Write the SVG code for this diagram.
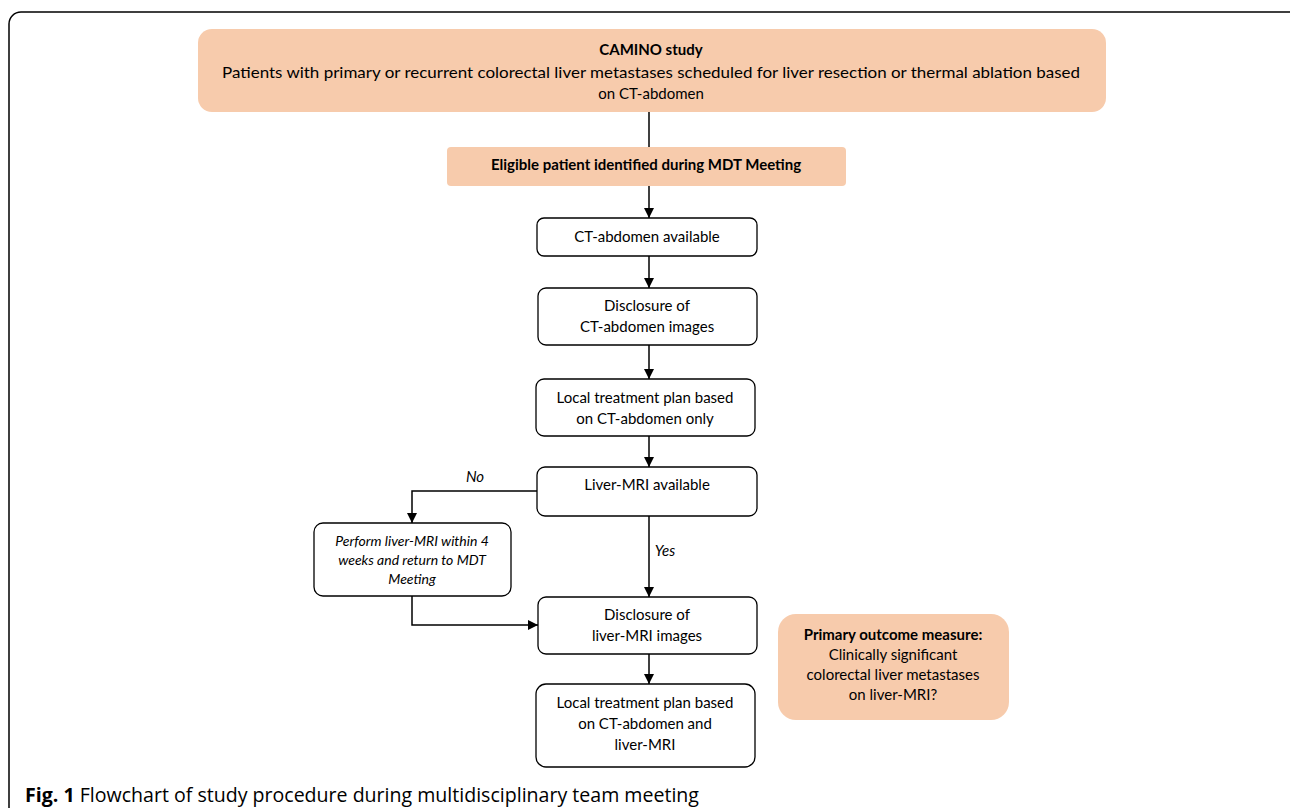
<svg xmlns="http://www.w3.org/2000/svg" width="1290" height="808" viewBox="0 0 1290 808">
<defs>
<marker id="ah" viewBox="0 0 10 10" refX="10" refY="5" markerWidth="10" markerHeight="10" markerUnits="userSpaceOnUse" orient="auto">
<path d="M0,0 L10,5 L0,10 z" fill="#000"/>
</marker>
<style>
.frame{fill:#fff;stroke:#000;stroke-width:1.5}
.peach{fill:#F7CBAC;stroke:none}
.box{fill:#fff;stroke:#000;stroke-width:1.3}
.t{font-family:Lato,"Open Sans","Liberation Sans",sans-serif;font-size:15px;fill:#000;text-anchor:middle}
.b{font-weight:bold}
.i{font-style:italic}
.s{font-size:14px}
.c{fill:none;stroke:#000;stroke-width:1.5}
.cap{font-family:"Open Sans","Liberation Sans",sans-serif;font-size:20px;fill:#000}
</style>
</defs>
<rect x="0" y="0" width="1290" height="808" fill="#fff"/>
<rect class="frame" x="9" y="12" width="1300" height="820" rx="12"/>

<g id="study">
<rect class="peach" x="198" y="29" width="908" height="83" rx="14"/>
<text class="t b" x="651" y="55">CAMINO study</text>
<text class="t" x="651" y="78" textLength="858" lengthAdjust="spacingAndGlyphs">Patients with primary or recurrent colorectal liver metastases scheduled for liver resection or thermal ablation based</text>
<text class="t" x="651" y="99">on CT-abdomen</text>
</g>
<g id="eligible">
<rect class="peach" x="447" y="147" width="399" height="39" rx="4"/>
<text class="t b" x="646" y="170">Eligible patient identified during MDT Meeting</text>
</g>
<g id="ct">
<rect class="box" x="537" y="218" width="220" height="38" rx="7"/>
<text class="t" x="647" y="242">CT-abdomen available</text>
</g>
<g id="disc-ct">
<rect class="box" x="538" y="288" width="219" height="57" rx="8"/>
<text class="t" x="647" y="311">Disclosure of</text>
<text class="t" x="647" y="332">CT-abdomen images</text>
</g>
<g id="plan-ct">
<rect class="box" x="536" y="379" width="219" height="57" rx="8"/>
<text class="t" x="645" y="403">Local treatment plan based</text>
<text class="t" x="645" y="424">on CT-abdomen only</text>
</g>
<g id="mri">
<rect class="box" x="537" y="467" width="220" height="49" rx="8"/>
<text class="t" x="647" y="490">Liver-MRI available</text>
</g>
<g id="perform">
<rect class="box" x="314" y="523" width="197" height="73" rx="9"/>
<text class="t i s" x="412" y="546">Perform liver-MRI within 4</text>
<text class="t i s" x="412" y="565">weeks and return to MDT</text>
<text class="t i s" x="412" y="584">Meeting</text>
</g>
<g id="disc-mri">
<rect class="box" x="538" y="597" width="219" height="57" rx="8"/>
<text class="t" x="647" y="620">Disclosure of</text>
<text class="t" x="647" y="641">liver-MRI images</text>
</g>
<g id="plan-mri">
<rect class="box" x="536" y="684" width="219" height="83" rx="10"/>
<text class="t" x="645" y="708">Local treatment plan based</text>
<text class="t" x="645" y="729">on CT-abdomen and</text>
<text class="t" x="645" y="750">liver-MRI</text>
</g>
<g id="outcome">
<rect class="peach" x="778" y="614" width="231" height="106" rx="18"/>
<text class="t b" x="893" y="640">Primary outcome measure:</text>
<text class="t" x="893" y="660">Clinically significant</text>
<text class="t" x="893" y="680">colorectal liver metastases</text>
<text class="t" x="893" y="700">on liver-MRI?</text>
</g>

<g id="connectors">
<line class="c" x1="649" y1="112" x2="649" y2="147"/>
<line class="c" x1="649" y1="186" x2="649" y2="218" marker-end="url(#ah)"/>
<line class="c" x1="649" y1="256" x2="649" y2="288" marker-end="url(#ah)"/>
<line class="c" x1="649" y1="345" x2="649" y2="379" marker-end="url(#ah)"/>
<line class="c" x1="649" y1="436" x2="649" y2="467" marker-end="url(#ah)"/>
<polyline class="c" points="537,491 412,491 412,523" marker-end="url(#ah)"/>
<line class="c" x1="649" y1="516" x2="649" y2="597" marker-end="url(#ah)"/>
<polyline class="c" points="412,596 412,625 538,625" marker-end="url(#ah)"/>
<line class="c" x1="649" y1="654" x2="649" y2="684" marker-end="url(#ah)"/>
<text class="t i" x="475" y="482">No</text>
<text class="t i" x="665" y="556">Yes</text>
</g>

<text class="cap" x="25" y="802" textLength="674" lengthAdjust="spacingAndGlyphs"><tspan font-weight="bold">Fig. 1</tspan> Flowchart of study procedure during multidisciplinary team meeting</text>
</svg>
